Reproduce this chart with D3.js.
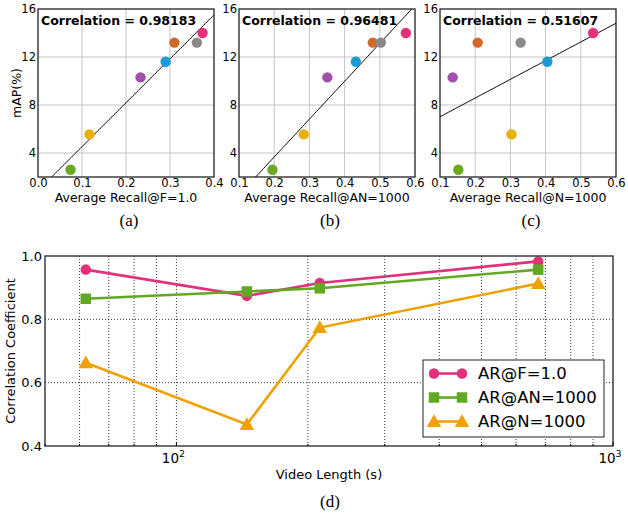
<!DOCTYPE html>
<html>
<head>
<meta charset="utf-8">
<script src="https://cdn.jsdelivr.net/npm/d3@7"></script>
<style>
    body { margin: 0; background: #fff; }
    svg text { font-family: 'DejaVu Sans', sans-serif; fill: #000; }
    .caption { font-family: 'Liberation Serif', 'Times New Roman', serif !important; font-size: 17px; }
</style>
</head>
<body>
<div id="body"></div>
<script>
// scatter data: one entry per method (same order in every array)
const pointColors = ['#6aaa22', '#e8b000', '#a150ae', '#1b9ad6', '#d2692c', '#8a8a8a', '#e5307a'];
const mAP = [2.6, 5.55, 10.3, 11.6, 13.2, 13.2, 14.0];
const recallF = [0.074, 0.117, 0.233, 0.290, 0.310, 0.361, 0.374];
const recallAN = [0.195, 0.284, 0.351, 0.432, 0.480, 0.503, 0.574];
const recallN = [0.152, 0.303, 0.136, 0.405, 0.207, 0.329, 0.535];
const corrLabels = ['Correlation = 0.98183', 'Correlation = 0.96481', 'Correlation = 0.51607'];
const xLabels = ['Average Recall@F=1.0', 'Average Recall@AN=1000', 'Average Recall@N=1000'];
const xDomains = [[0, 0.4], [0.1, 0.6], [0.1, 0.6]];
const xTicks = [[0, 0.1, 0.2, 0.3, 0.4], [0.1, 0.2, 0.3, 0.4, 0.5, 0.6], [0.1, 0.2, 0.3, 0.4, 0.5, 0.6]];
const yTicks = [4, 8, 12, 16];
const captions = ['(a)', '(b)', '(c)'];

// line chart data
const videoLength = [62, 145, 213, 674];
const corrF = [0.957, 0.874, 0.915, 0.983];
const corrAN = [0.865, 0.888, 0.898, 0.957];
const corrN = [0.663, 0.468, 0.774, 0.913];
const seriesNames = ['AR@F=1.0', 'AR@AN=1000', 'AR@N=1000'];
const seriesColors = ['#e2317b', '#62a825', '#f0a000'];
const seriesShapes = ['circle', 'square', 'triangle'];
const corrTicks = [0.4, 0.6, 0.8, 1.0];

const svg = d3.select('#body').append('svg')
    .attr('width', 628)
    .attr('height', 513);

function regression(xs, ys) {
    let mx = d3.mean(xs), my = d3.mean(ys);
    let sxy = d3.sum(xs, (x, i) => (x - mx) * (ys[i] - my));
    let sxx = d3.sum(xs, x => (x - mx) * (x - mx));
    let slope = sxy / sxx;
    return x => my + slope * (x - mx);
}

// ---------- top scatter panels ----------
const recalls = [recallF, recallAN, recallN];
const panelLefts = [38, 239, 440];
const pw = 176, ph = 168, pt = 9;

recalls.forEach((rec, p) => {
    let g = svg.append('g').attr('transform', `translate(${panelLefts[p]},${pt})`);
    let x = d3.scaleLinear().domain(xDomains[p]).range([0, pw]);
    let y = d3.scaleLinear().domain([2, 16]).range([ph, 0]);

    // grid
    g.append('g').selectAll('line.vx')
        .data(xTicks[p].slice(1, -1))
        .enter().append('line')
        .attr('x1', d => x(d)).attr('x2', d => x(d))
        .attr('y1', 0).attr('y2', ph)
        .attr('stroke', '#c4c4c4').attr('stroke-width', 1);
    g.append('g').selectAll('line.hy')
        .data(yTicks.slice(0, -1))
        .enter().append('line')
        .attr('x1', 0).attr('x2', pw)
        .attr('y1', d => y(d)).attr('y2', d => y(d))
        .attr('stroke', '#c4c4c4').attr('stroke-width', 1);

    let clipId = 'clip' + p;
    g.append('defs').append('clipPath').attr('id', clipId)
        .append('rect').attr('width', pw).attr('height', ph);

    // fit line
    let f = regression(rec, mAP);
    let xs = d3.range(0, 101).map(i => xDomains[p][0] + (xDomains[p][1] - xDomains[p][0]) * i / 100);
    g.append('path')
        .attr('clip-path', `url(#${clipId})`)
        .attr('d', d3.line().x(d => x(d)).y(d => y(f(d)))(xs))
        .attr('fill', 'none').attr('stroke', '#000').attr('stroke-width', 1);

    // points
    g.append('g').selectAll('circle')
        .data(rec)
        .enter().append('circle')
        .attr('cx', d => x(d))
        .attr('cy', (d, i) => y(mAP[i]))
        .attr('r', 5.2)
        .attr('fill', (d, i) => pointColors[i]);

    // frame
    g.append('rect').attr('width', pw).attr('height', ph)
        .attr('fill', 'none').attr('stroke', '#222').attr('stroke-width', 1.3);

    // axes
    let xAxis = d3.axisBottom(x).tickValues(xTicks[p]).tickFormat(d3.format('.1f')).tickSize(0).tickPadding(2);
    let ga = g.append('g').attr('transform', `translate(0,${ph})`).call(xAxis);
    ga.select('.domain').remove();
    ga.selectAll('text').style('font-size', '11.5px').style('font-family', 'DejaVu Sans');

    let yAxis = d3.axisLeft(y).tickValues(yTicks).tickSize(0).tickPadding(2);
    let gy = g.append('g').call(yAxis);
    gy.select('.domain').remove();
    gy.selectAll('text').style('font-size', '11.5px').style('font-family', 'DejaVu Sans');

    g.append('text')
        .attr('x', 3).attr('y', 16)
        .style('font-size', '12.5px').style('font-weight', 'bold')
        .text(corrLabels[p]);

    g.append('text')
        .attr('x', pw / 2).attr('y', 193)
        .attr('text-anchor', 'middle')
        .style('font-size', '12.5px')
        .text(xLabels[p]);

    g.append('text')
        .attr('class', 'caption')
        .attr('x', pw / 2 + 3).attr('y', 217)
        .attr('text-anchor', 'middle')
        .text(captions[p]);

    if (p === 0) {
        g.append('text')
            .attr('transform', `translate(${-17},${ph / 2}) rotate(-90)`)
            .attr('text-anchor', 'middle')
            .style('font-size', '12.5px')
            .text('mAP(%)');
    }
});

// ---------- bottom line chart ----------
const bl = 45, br = 613, bt = 256, bb = 446;
const lx = d3.scaleLog().domain([50, 1000]).range([bl, br]);
const ly = d3.scaleLinear().domain([0.4, 1.0]).range([bb, bt]);
const bottom = svg.append('g');

// dotted grid
bottom.append('g').selectAll('line')
    .data(lx.ticks().filter(d => d > 50 && d < 1000))
    .enter().append('line')
    .attr('x1', d => lx(d)).attr('x2', d => lx(d))
    .attr('y1', bt).attr('y2', bb)
    .attr('stroke', '#222').attr('stroke-width', 0.9).attr('stroke-dasharray', '1,2');
bottom.append('g').selectAll('line')
    .data(corrTicks.slice(1, -1))
    .enter().append('line')
    .attr('x1', bl).attr('x2', br)
    .attr('y1', d => ly(d)).attr('y2', d => ly(d))
    .attr('stroke', '#222').attr('stroke-width', 0.9).attr('stroke-dasharray', '1,2');

function drawMarker(sel, shape, color, size) {
    if (shape === 'circle') {
        sel.append('circle').attr('r', size / 2).attr('fill', color);
    } else if (shape === 'square') {
        sel.append('rect').attr('x', -size / 2).attr('y', -size / 2)
            .attr('width', size).attr('height', size).attr('fill', color);
    } else {
        let s = size * 1.15;
        sel.append('path')
            .attr('d', `M0,${-s * 0.6}L${s * 0.6},${s * 0.45}L${-s * 0.6},${s * 0.45}Z`)
            .attr('fill', color);
    }
}

const allSeries = [corrF, corrAN, corrN];
allSeries.forEach((vals, s) => {
    bottom.append('path')
        .attr('d', d3.line().x((d, i) => lx(videoLength[i])).y(d => ly(d))(vals))
        .attr('fill', 'none')
        .attr('stroke', seriesColors[s])
        .attr('stroke-width', 2.6);
    bottom.append('g').selectAll('g')
        .data(vals)
        .enter().append('g')
        .attr('transform', (d, i) => `translate(${lx(videoLength[i])},${ly(d)})`)
        .each(function () { drawMarker(d3.select(this), seriesShapes[s], seriesColors[s], 10.5); });
});

// frame
bottom.append('rect')
    .attr('x', bl).attr('y', bt).attr('width', br - bl).attr('height', bb - bt)
    .attr('fill', 'none').attr('stroke', '#333').attr('stroke-width', 1.4);

// y axis labels
bottom.append('g').selectAll('text')
    .data(corrTicks)
    .enter().append('text')
    .attr('x', bl - 3).attr('y', d => ly(d)).attr('dy', '0.36em')
    .attr('text-anchor', 'end')
    .style('font-size', '13px')
    .text(d => d.toFixed(1));

// x axis labels (powers of ten)
let decades = bottom.append('g').selectAll('text')
    .data([100, 1000])
    .enter().append('text')
    .attr('x', d => lx(d) - 3).attr('y', bb + 17)
    .attr('text-anchor', 'middle')
    .style('font-size', '13.5px');
decades.append('tspan').text('10');
decades.append('tspan').attr('dy', -6).style('font-size', '9.5px').text(d => Math.log10(d));

// tiny minor tick marks on bottom axis
bottom.append('g').selectAll('line')
    .data(lx.ticks())
    .enter().append('line')
    .attr('x1', d => lx(d)).attr('x2', d => lx(d))
    .attr('y1', bb).attr('y2', d => bb - (Math.log10(d) % 1 === 0 ? 4 : 2))
    .attr('stroke', '#000');

bottom.append('text')
    .attr('x', (bl + br) / 2).attr('y', 479)
    .attr('text-anchor', 'middle')
    .style('font-size', '13px')
    .text('Video Length (s)');

bottom.append('text')
    .attr('transform', `translate(15,${(bt + bb) / 2}) rotate(-90)`)
    .attr('text-anchor', 'middle')
    .style('font-size', '13px')
    .text('Correlation Coefficient');

bottom.append('text')
    .attr('class', 'caption')
    .attr('x', 330).attr('y', 507)
    .attr('text-anchor', 'middle')
    .text('(d)');

// legend
const legend = bottom.append('g').attr('transform', 'translate(423,360)');
legend.append('rect')
    .attr('width', 181).attr('height', 77)
    .attr('fill', '#fff').attr('stroke', '#222').attr('stroke-width', 1);
seriesNames.forEach((name, s) => {
    let row = legend.append('g').attr('transform', `translate(0,${13.5 + s * 24})`);
    row.append('line')
        .attr('x1', 11).attr('x2', 39)
        .attr('stroke', seriesColors[s]).attr('stroke-width', 2.6);
    [11, 39].forEach(px => {
        drawMarker(row.append('g').attr('transform', `translate(${px},0)`), seriesShapes[s], seriesColors[s], 10.5);
    });
    row.append('text')
        .attr('x', 55).attr('dy', '0.36em')
        .style('font-size', '16.5px')
        .text(name);
});
</script>
</body>
</html>
